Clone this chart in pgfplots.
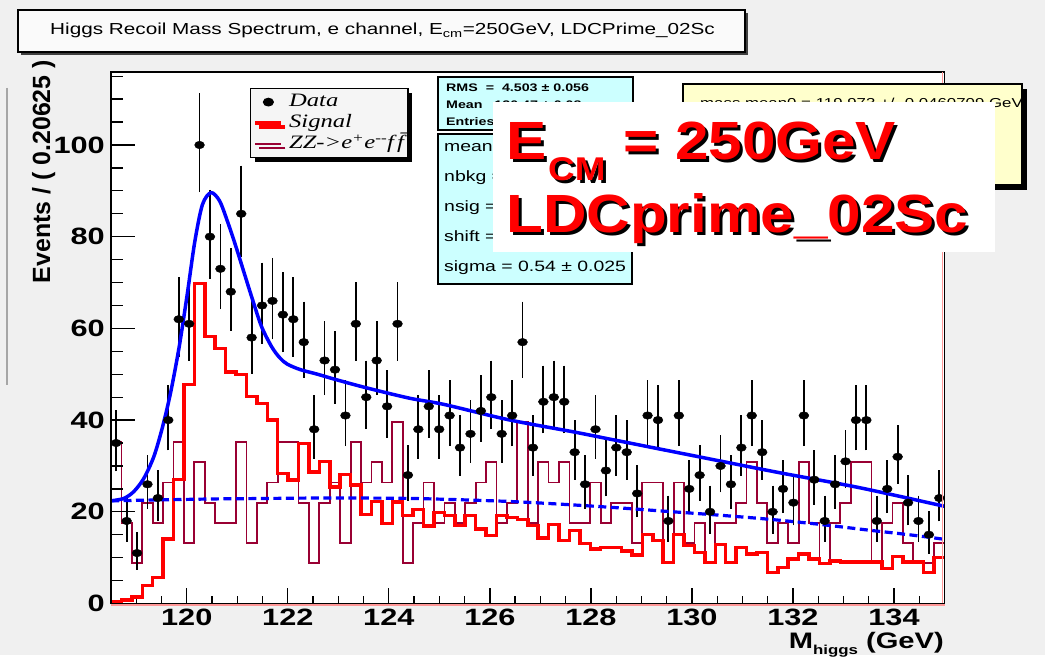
\documentclass[border=0pt]{standalone}
\usepackage{fontspec}
\usepackage{pgfplots}
\pgfplotsset{compat=1.18}
\usepackage{pgfplotstable}
\usetikzlibrary{shadows}
\setmainfont{Liberation Sans}
\newfontfamily\rootsans[FakeStretch=1.3]{Liberation Sans}
\newfontfamily\rootserif[FakeStretch=1.3]{Liberation Serif}
\newfontfamily\ovl[FakeStretch=1.12]{Liberation Sans}
\newfontfamily\plainsans{Liberation Sans}
\definecolor{bgc}{RGB}{240,240,240}
\definecolor{cyanbox}{RGB}{204,255,255}
\definecolor{yelbox}{RGB}{255,255,204}
\definecolor{zzc}{RGB}{153,0,51}
\definecolor{pinkl}{RGB}{255,150,150}

\pgfplotstableread{
x y ep em
118.603 35 6.42 5.42
118.809 18 4.74 3.74
119.016 11 3.82 2.82
119.222 26 5.60 4.60
119.428 23 5.30 4.30
119.634 40 6.82 5.82
119.841 62 8.37 7.37
120.047 61 8.31 7.31
120.253 100 10.50 9.50
120.459 80 9.44 8.44
120.666 73 9.04 8.04
120.872 68 8.75 7.75
121.078 85 9.72 8.72
121.284 58 8.12 7.12
121.491 65 8.56 7.56
121.697 66 8.62 7.62
121.903 63 8.44 7.44
122.109 62 8.37 7.37
122.316 57 8.05 7.05
122.522 38 6.66 5.66
122.728 53 7.78 6.78
122.934 51 7.64 6.64
123.141 41 6.90 5.90
123.347 61 8.31 7.31
123.553 45 7.21 6.21
123.759 53 7.78 6.78
123.966 43 7.06 6.06
124.172 61 8.31 7.31
124.378 28 5.79 4.79
124.584 38 6.66 5.66
124.791 43 7.06 6.06
124.997 38 6.66 5.66
125.203 41 6.90 5.90
125.409 34 6.33 5.33
125.616 37 6.58 5.58
125.822 42 6.98 5.98
126.028 45 7.21 6.21
126.234 37 6.58 5.58
126.441 41 6.90 5.90
126.647 57 8.05 7.05
126.853 34 6.33 5.33
127.059 44 7.13 6.13
127.266 45 7.21 6.21
127.472 44 7.13 6.13
127.678 33 6.25 5.25
127.884 26 5.60 4.60
128.091 38 6.66 5.66
128.297 29 5.89 4.89
128.503 34 6.33 5.33
128.709 33 6.25 5.25
128.916 24 5.40 4.40
129.122 41 6.90 5.90
129.328 40 6.82 5.82
129.534 18 4.74 3.74
129.741 41 6.90 5.90
129.947 25 5.50 4.50
130.153 28 5.79 4.79
130.359 20 4.97 3.97
130.566 30 5.98 4.98
130.772 26 5.60 4.60
130.978 34 6.33 5.33
131.184 41 6.90 5.90
131.391 33 6.25 5.25
131.597 20 4.97 3.97
131.803 25 5.50 4.50
132.009 22 5.19 4.19
132.216 41 6.90 5.90
132.422 27 5.70 4.70
132.628 18 4.74 3.74
132.834 26 5.60 4.60
133.041 31 6.07 5.07
133.247 40 6.82 5.82
133.453 40 6.82 5.82
133.659 18 4.74 3.74
133.866 25 5.50 4.50
134.072 32 6.16 5.16
134.278 22 5.19 4.19
134.484 18 4.74 3.74
134.691 15 4.37 3.37
134.897 23 5.30 4.30
}\datatab

\pgfplotstableread{
x y
118.5 0.3
118.70625 0.8
118.9125 1.4
119.11875 3.9
119.325 5.7
119.53125 14.1
119.7375 27.0
119.94375 47.8
120.15 69.8
120.35625 58.2
120.5625 55.6
120.76875 50.5
120.975 49.9
121.18125 45.1
121.3875 43.6
121.59375 40.0
121.8 28.3
122.00625 26.9
122.2125 34.9
122.41875 28.7
122.625 31.0
122.83125 25.4
123.0375 28.1
123.24375 25.8
123.45 19.4
123.65625 22.2
123.8625 17.4
124.06875 22.1
124.275 19.2
124.48125 20.5
124.6875 16.9
124.89375 19.9
125.1 19.2
125.30625 17.0
125.5125 19.2
125.71875 16.3
125.925 14.8
126.13125 19.2
126.3375 18.8
126.54375 18.3
126.75 17.0
126.95625 14.3
127.1625 17.2
127.36875 13.7
127.575 15.9
127.78125 13.1
127.9875 11.9
128.19375 12.2
128.4 12.2
128.60625 11.5
128.8125 10.6
129.01875 15.1
129.225 13.7
129.43125 8.9
129.6375 15.1
129.84375 12.6
130.05 11.1
130.25625 8.9
130.4625 12.9
130.66875 8.9
130.875 12.2
131.08125 10.8
131.2875 11.1
131.49375 6.8
131.7 7.9
131.90625 9.7
132.1125 10.8
132.31875 9.7
132.525 8.7
132.73125 9.3
132.9375 9.0
133.14375 9.0
133.35 9.0
133.55625 9.0
133.7625 7.6
133.96875 10.3
134.175 9.0
134.38125 9.0
134.5875 6.8
134.79375 10.0
135 10.0
}\sigtab

\pgfplotstableread{
x y
118.5 35.2
118.70625 17.6
118.9125 8.8
119.11875 22.0
119.325 17.6
119.53125 26.4
119.7375 35.2
119.94375 13.2
120.15 30.8
120.35625 22.0
120.5625 17.6
120.76875 17.6
120.975 35.2
121.18125 13.2
121.3875 22.0
121.59375 26.4
121.8 35.2
122.00625 35.2
122.2125 22.0
122.41875 8.8
122.625 22.0
122.83125 26.4
123.0375 13.2
123.24375 35.2
123.45 26.4
123.65625 30.8
123.8625 26.4
124.06875 39.6
124.275 8.8
124.48125 17.6
124.6875 26.4
124.89375 17.6
125.1 22.0
125.30625 17.6
125.5125 22.0
125.71875 26.4
125.925 30.8
126.13125 17.6
126.3375 22.0
126.54375 39.6
126.75 17.6
126.95625 30.8
127.1625 26.4
127.36875 30.8
127.575 17.6
127.78125 17.6
127.9875 26.4
128.19375 17.6
128.4 22.0
128.60625 22.0
128.8125 13.2
129.01875 26.4
129.225 26.4
129.43125 8.8
129.6375 26.4
129.84375 13.2
130.05 17.6
130.25625 8.8
130.4625 17.6
130.66875 17.6
130.875 22.0
131.08125 30.8
131.2875 22.0
131.49375 13.2
131.7 17.6
131.90625 13.2
132.1125 30.8
132.31875 17.6
132.525 8.8
132.73125 17.6
132.9375 22.0
133.14375 30.8
133.35 30.8
133.55625 8.8
133.7625 17.6
133.96875 22.0
134.175 13.2
134.38125 8.8
134.5875 8.8
134.79375 13.2
135 13.2
}\zztab

\newcommand\bigf{\ovl\bfseries\fontsize{54}{60}\selectfont}
\newcommand\subf{\ovl\bfseries\fontsize{33}{36}\selectfont}

\begin{document}
\begin{tikzpicture}
\begin{scope}[x=1bp,y=-1bp,shift={(0bp,655bp)}]
\fill[bgc] (0,0) rectangle (1045,655);
\path[use as bounding box] (0,0) rectangle (1045,655);
\draw[gray!70, line width=2bp] (7,88) -- (7,385);
\fill[black!75] (21,13) rectangle (748,55);
\draw[line width=1.3bp, fill=gray!4] (18,10) rectangle (745,52);
\node[anchor=base west, inner sep=0, font=\rootsans\fontsize{16}{18}\selectfont] at (50,35) {Higgs Recoil Mass Spectrum, e channel, E\textsubscript{cm}=250GeV, LDCPrime\_02Sc};
\end{scope}

\begin{axis}[
  at={(111bp,51.5bp)}, anchor=south west,
  width=833.5bp, height=531.5bp, scale only axis,
  xmin=118.5, xmax=135, ymin=0, ymax=115.92,
  axis background/.style={fill=white},
  axis line style={line width=1.3bp, black},
  tick pos=left, tick align=inside,
  xtick={120,122,...,134}, minor xtick={118.5,119,...,135},
  ytick={0,20,...,100}, minor ytick={0,5,...,115},
  major tick length=16bp, minor tick length=8bp,
  tick style={black, line width=1.3bp},
  /pgf/number format/assume math mode=true,
  tick label style={font=\rootsans\bfseries\fontsize{23.7}{26}\selectfont, inner sep=0pt},
  xticklabel style={yshift=-5bp},
  yticklabel style={xshift=-6bp},
  legend style={at={(rel axis cs:0.1668,0.9699)}, anchor=north west,
    fill=gray!8, draw=black, line width=1.2bp,
    font=\rootserif\itshape\fontsize{19}{21}\selectfont,
    inner xsep=3bp, inner ysep=3bp, row sep=0pt,
    drop shadow={shadow xshift=4bp, shadow yshift=-4bp, fill=black, opacity=1},
    nodes={inner sep=1bp, text height=14bp, text depth=5bp},
    /tikz/every odd column/.append style={column sep=5bp}},
  legend cell align=left, reverse legend,
]
\addplot[const plot, draw=zzc, line width=1.8bp,
  legend image code/.code={\draw[zzc, line width=1.8bp] (0bp,0bp) -- (26bp,0bp);}]
  table[x=x,y=y]{\zztab};
\addlegendentry{ZZ->e\textsuperscript{+}e\textsuperscript{--}f\,\={f}}
\addplot[const plot, draw=red, line width=3.5bp,
  legend image code/.code={\draw[red, line width=3.5bp] (0bp,0bp) -- (26bp,0bp);}]
  table[x=x,y=y]{\sigtab};
\addlegendentry{Signal}
\addplot[black, only marks, mark=*, mark size=3.8bp,
  mark options={fill=black, draw=black, xscale=1.3},
  legend image code/.code={\draw[black, mark=*, mark size=3.8bp, mark options={fill=black, draw=black, xscale=1.3}] plot coordinates {(13bp,0bp)};},
  error bars/.cd, y dir=both, y explicit,
  error bar style={line width=1.8bp, black},
  error mark options={black, line width=1.8bp, mark size=3.5bp}]
  table[x=x,y=y,y error plus=ep,y error minus=em]{\datatab};
\addlegendentry{Data}
\addplot[forget plot, smooth, blue, line width=3.2bp, dash pattern=on 8bp off 4.5bp] coordinates {
(118.5,22.4) (119.5,22.6) (120.5,22.8) (121.5,22.9) (122.5,23.0) (123.5,23.0) (124.5,22.9) (125.5,22.6) (126.5,22.2) (127.5,21.6) (128.5,20.9) (129.5,20.1) (130.5,19.3) (131.5,18.4) (132.5,17.3) (133.5,16.0) (134.3,15.0) (135,14.0)};
\addplot[forget plot, smooth, blue, line width=3.5bp] coordinates {
(118.5,22.4) (118.75,22.9) (118.95,24.4) (119.15,27.3) (119.35,32.1) (119.52,38.5) (119.68,46.0) (119.85,56.0) (120.01,67.5) (120.16,79.0) (120.31,87.0) (120.48,89.6) (120.65,87.8) (120.81,83.2) (120.98,77.6) (121.15,71.6) (121.31,66.0) (121.48,60.4) (121.68,56.0) (121.84,53.6) (121.99,52.2) (122.25,51.0) (122.59,50.0) (122.9,49.0) (123.5,47.2) (124.4,44.8) (125.1,43.4) (126.36,40.1) (127.67,37.4) (128.4,35.8) (130.0,32.3) (131.7,28.6) (133.3,25.3) (135.0,21.2)};
\end{axis}

\begin{axis}[
  at={(111bp,51.5bp)}, anchor=south west,
  width=833.5bp, height=531.5bp, scale only axis,
  xmin=118.5, xmax=135, ymin=0, ymax=115.92,
  axis line style={line width=1.3bp, black},
  tick pos=left, tick align=inside,
  xtick=\empty, ytick={0,20,...,100}, minor ytick={0,5,...,115}, yticklabels={},
  major tick length=24bp, minor tick length=12bp,
  tick style={black, line width=1.3bp},
]
\end{axis}

\begin{scope}[x=1bp,y=-1bp,shift={(0bp,655bp)}]
\draw[pinkl, line width=1.5bp] (942.3,72) -- (942.3,603);
\draw[pinkl, line width=1.5bp] (111,605) -- (944.5,605);
\node[rotate=90, anchor=north east, inner sep=0, font=\plainsans\bfseries\fontsize{25}{27}\selectfont] at (32,60) {Events / ( 0.20625 )};
\node[anchor=base east, inner sep=0, font=\rootsans\bfseries\fontsize{22.5}{24}\selectfont] at (944,648) {M\raisebox{-6bp}{\fontsize{13}{14}\selectfont higgs} (GeV)};
% stats boxes
\draw[fill=cyanbox, line width=1.3bp] (438,77) rectangle (633,130);
\node[anchor=base west, inner sep=0, font=\rootsans\bfseries\fontsize{11}{12}\selectfont] at (446,92) {RMS \ = \ 4.503 ± 0.056};
\node[anchor=base west, inner sep=0, font=\rootsans\bfseries\fontsize{11}{12}\selectfont] at (446,109) {Mean \ \ 120.47 ± 0.08};
\node[anchor=base west, inner sep=0, font=\rootsans\bfseries\fontsize{11}{12}\selectfont] at (446,126) {Entries \ \ 2928};
\draw[fill=cyanbox, line width=1.3bp] (438,134) rectangle (632,284);
\node[anchor=base west, inner sep=0, font=\rootsans\fontsize{15}{16}\selectfont] at (444,152) {mean = 119.97 ± 0.046};
\node[anchor=base west, inner sep=0, font=\rootsans\fontsize{15}{16}\selectfont] at (444,182) {nbkg = 1846 ± 52};
\node[anchor=base west, inner sep=0, font=\rootsans\fontsize{15}{16}\selectfont] at (444,212) {nsig = 1085 ± 45};
\node[anchor=base west, inner sep=0, font=\rootsans\fontsize{15}{16}\selectfont] at (444,242) {shift = 0.27 ± 0.04};
\node[anchor=base west, inner sep=0, font=\rootsans\fontsize{15}{16}\selectfont] at (444,272) {sigma = 0.54 ± 0.025};
% yellow box
\fill[black] (688,89) rectangle (1027,190);
\draw[fill=yelbox, line width=1.3bp] (683,84) rectangle (1022,185);
\node[anchor=base west, inner sep=0, font=\rootsans\fontsize{13}{14}\selectfont] at (700,108) {mass mean0 = 119.973 +/- 0.0460709 GeV};
% white overlay
\fill[white] (493,102) rectangle (995,252);
\node[anchor=base west, inner sep=0, font=\bigf, text=black] at (509,163) {E};
\node[anchor=base west, inner sep=0, font=\bigf, text=red] at (506,160) {E};
\node[anchor=base west, inner sep=0, font=\subf, text=black] at (551,184) {CM};
\node[anchor=base west, inner sep=0, font=\subf, text=red] at (548,181) {CM};
\node[anchor=base west, inner sep=0, font=\bigf, text=black] at (626,163) {= 250GeV};
\node[anchor=base west, inner sep=0, font=\bigf, text=red] at (623,160) {= 250GeV};
\node[anchor=base west, inner sep=0, font=\bigf, text=black] at (509,236) {LDCprime\_02Sc};
\node[anchor=base west, inner sep=0, font=\bigf, text=red] at (506,233) {LDCprime\_02Sc};
\end{scope}
\end{tikzpicture}
\end{document}
